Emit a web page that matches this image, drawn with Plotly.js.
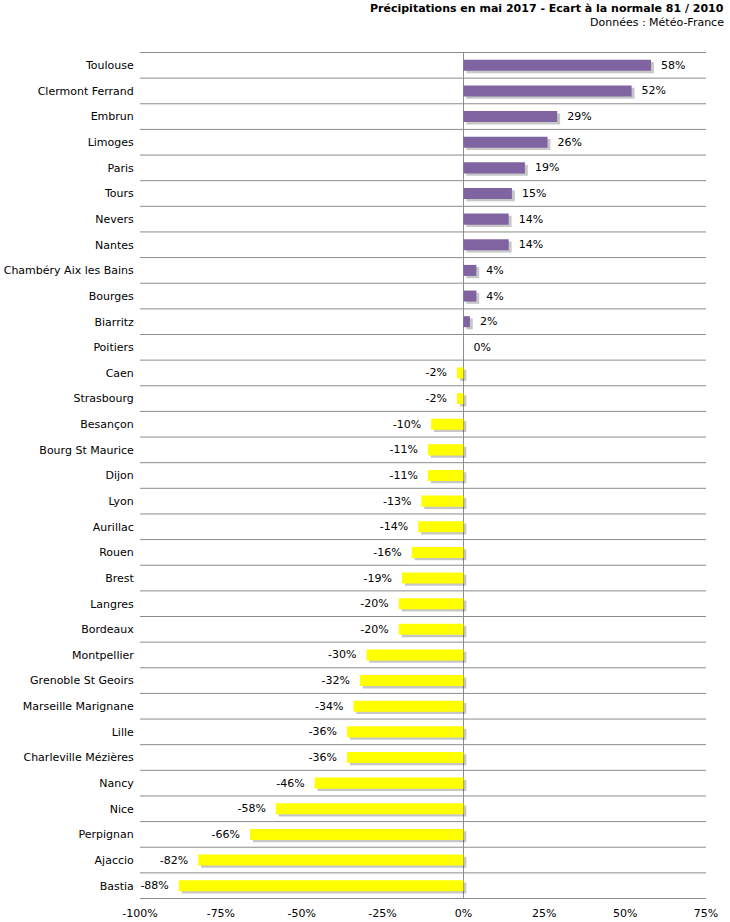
<!DOCTYPE html>
<html>
<head>
<meta charset="utf-8">
<script src="https://cdn.plot.ly/plotly-3.0.1.min.js"></script>
<style>html,body{margin:0;padding:0;background:#fff;}#chart{width:730px;height:922px;}</style>
</head>
<body>
<div id="chart"></div>
<script>
const cities = ["Toulouse","Clermont Ferrand","Embrun","Limoges","Paris","Tours","Nevers","Nantes",
  "Chambéry Aix les Bains","Bourges","Biarritz","Poitiers","Caen","Strasbourg","Besançon",
  "Bourg St Maurice","Dijon","Lyon","Aurillac","Rouen","Brest","Langres","Bordeaux","Montpellier",
  "Grenoble St Geoirs","Marseille Marignane","Lille","Charleville Mézières","Nancy","Nice",
  "Perpignan","Ajaccio","Bastia"];
const ecart = [58,52,29,26,19,15,14,14,4,4,2,0,-2,-2,-10,-11,-11,-13,-14,-16,-19,-20,-20,-30,
  -32,-34,-36,-36,-46,-58,-66,-82,-88];
const tickVals = [-100,-75,-50,-25,0,25,50,75];
const tickText = ["-100%","-75%","-50%","-25%","0%","25%","50%","75%"];
const titleText = "Précipitations en mai 2017 - Ecart à la normale 81 / 2010";
const sourceText = "Données : Météo-France";

const FONT = "DejaVu Sans, Verdana, sans-serif";
const barW = 0.43;
const colors = ecart.map(v => v >= 0 ? "#8064A2" : "#FFFF00");
const labels = ecart.map(v => v + "%");
const templates = ecart.map(v => v >= 0 ? "\u00a0\u00a0%{text}" : "%{text}\u00a0\u00a0");

const shadow = {
  type: "bar", orientation: "h", y: cities, x: ecart, base: 0.9,
  width: barW, offset: -barW/2 + 0.09,
  marker: {color: "rgba(0,0,0,0.22)", line: {width: 0}},
  hoverinfo: "skip", showlegend: false
};
const main = {
  type: "bar", orientation: "h", y: cities, x: ecart,
  width: barW, offset: -barW/2,
  marker: {color: colors, line: {width: 0}},
  text: labels, texttemplate: templates, textposition: "outside", cliponaxis: false,
  constraintext: "none",
  textfont: {family: FONT, size: 11, color: "#000"},
  hoverinfo: "skip", showlegend: false
};

const shapes = [];
for (let i = 0; i <= cities.length; i++) {
  shapes.push({type: "line", xref: "paper", yref: "y", x0: 0, x1: 1,
    y0: i - 0.5, y1: i - 0.5, line: {color: "#8c8c8c", width: 1}, layer: "below"});
}

const layout = {
  width: 730, height: 922,
  margin: {l: 140, r: 24, t: 52, b: 23},
  paper_bgcolor: "#fff", plot_bgcolor: "#fff",
  barmode: "overlay",
  font: {family: FONT, size: 11, color: "#000"},
  xaxis: {range: [-100, 75], tickvals: tickVals, ticktext: tickText, showgrid: false,
    zeroline: true, zerolinecolor: "#8c8c8c", zerolinewidth: 1, showline: false,
    ticks: "outside", ticklen: 4, tickcolor: "rgba(0,0,0,0)",
    tickfont: {family: FONT, size: 11}, fixedrange: true},
  yaxis: {type: "category", autorange: "reversed", range: [cities.length - 0.5, -0.5],
    showgrid: false, zeroline: false, showline: false, ticks: "outside", ticklen: 3,
    tickcolor: "rgba(0,0,0,0)", tickfont: {family: FONT, size: 11}, fixedrange: true},
  shapes: shapes,
  annotations: [
    {text: "<b>" + titleText + "</b>", xref: "paper", yref: "paper", x: 1.035, y: 1, yshift: 52,
      xanchor: "right", yanchor: "top", showarrow: false, font: {family: FONT, size: 11, color: "#000"}},
    {text: sourceText, xref: "paper", yref: "paper", x: 1.035, y: 1, yshift: 38,
      xanchor: "right", yanchor: "top", showarrow: false, font: {family: FONT, size: 11, color: "#000"}}
  ],
  showlegend: false
};
Plotly.newPlot("chart", [shadow, main], layout, {displayModeBar: false, staticPlot: true});
</script>
</body>
</html>
